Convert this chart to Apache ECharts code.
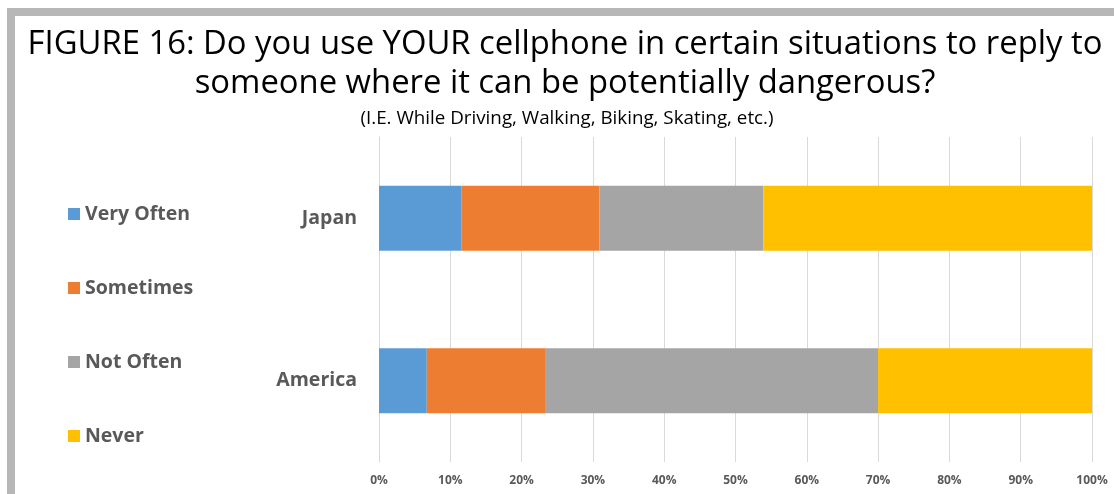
<!DOCTYPE html>
<html>
<head>
<meta charset="utf-8">
<script src="https://cdn.jsdelivr.net/npm/echarts@6/dist/echarts.min.js"></script>
<style>
  html, body { margin: 0; padding: 0; background: #fff; }
  #chart { width: 1114px; height: 494px; }
</style>
</head>
<body>
<div id="chart"></div>
<script>
// Survey answers, percent of respondents per country
const countries = ['America', 'Japan'];
const seriesNames = ['Very Often', 'Sometimes', 'Not Often', 'Never'];
const veryOften = [6.7, 11.6];
const sometimes = [16.7, 19.3];
const notOften = [46.6, 23.0];
const never = [30.0, 46.1];
const seriesColors = ['#5b9bd5', '#ed7d31', '#a5a5a5', '#ffc000'];

const values = [veryOften, sometimes, notOften, never];
const textGray = '#595959';
const bodyFont = '"Open Sans", "Noto Sans", sans-serif';

const chart = echarts.init(document.getElementById('chart'), null, { renderer: 'canvas' });

chart.setOption({
  backgroundColor: '#ffffff',
  animation: false,
  color: seriesColors,
  title: [
    {
      text: 'FIGURE 16: Do you use YOUR cellphone in certain situations to reply to',
      left: 560, top: 23, textAlign: 'center',
      textStyle: { fontFamily: bodyFont, fontWeight: 'normal', fontSize: 32.8, color: '#000' }
    },
    {
      text: 'someone where it can be potentially dangerous?',
      left: 560, top: 62, textAlign: 'center',
      textStyle: { fontFamily: bodyFont, fontWeight: 'normal', fontSize: 32.8, color: '#000' }
    },
    {
      text: '(I.E. While Driving, Walking, Biking, Skating, etc.)',
      left: 562, top: 104, textAlign: 'center',
      textStyle: { fontFamily: bodyFont, fontWeight: 'normal', fontSize: 18.8, color: '#000' }
    }
  ],
  graphic: [
    { type: 'rect', shape: { x: 7, y: 8, width: 1107, height: 8 }, style: { fill: '#b7b7b7' }, silent: true },
    { type: 'rect', shape: { x: 7, y: 8, width: 8, height: 486 }, style: { fill: '#b7b7b7' }, silent: true }
  ],
  legend: {
    orient: 'vertical',
    left: 63, top: 199,
    itemWidth: 12, itemHeight: 12,
    itemGap: 54,
    icon: 'rect',
    data: seriesNames,
    textStyle: { fontFamily: bodyFont, fontWeight: 'bold', fontSize: 19.5, color: textGray }
  },
  grid: { left: 379, right: 22, top: 137, bottom: 32, containLabel: false },
  xAxis: {
    type: 'value',
    min: 0, max: 100, interval: 10,
    axisLine: { show: false },
    axisTick: { show: false },
    splitLine: { lineStyle: { color: '#d9d9d9', width: 1 } },
    axisLabel: {
      formatter: '{value}%',
      fontFamily: bodyFont, fontWeight: 'bold', fontSize: 12, color: textGray, margin: 13
    }
  },
  yAxis: {
    type: 'category',
    data: countries,
    axisLine: { show: true, lineStyle: { color: '#d9d9d9' } },
    axisTick: { show: false },
    axisLabel: {
      fontFamily: bodyFont, fontWeight: 'bold', fontSize: 19.5, color: textGray, margin: 22
    }
  },
  series: seriesNames.map((name, i) => ({
    name: name,
    type: 'bar',
    stack: 'total',
    barWidth: '40%',
    data: values[i],
    itemStyle: { color: seriesColors[i] }
  }))
});
</script>
</body>
</html>
